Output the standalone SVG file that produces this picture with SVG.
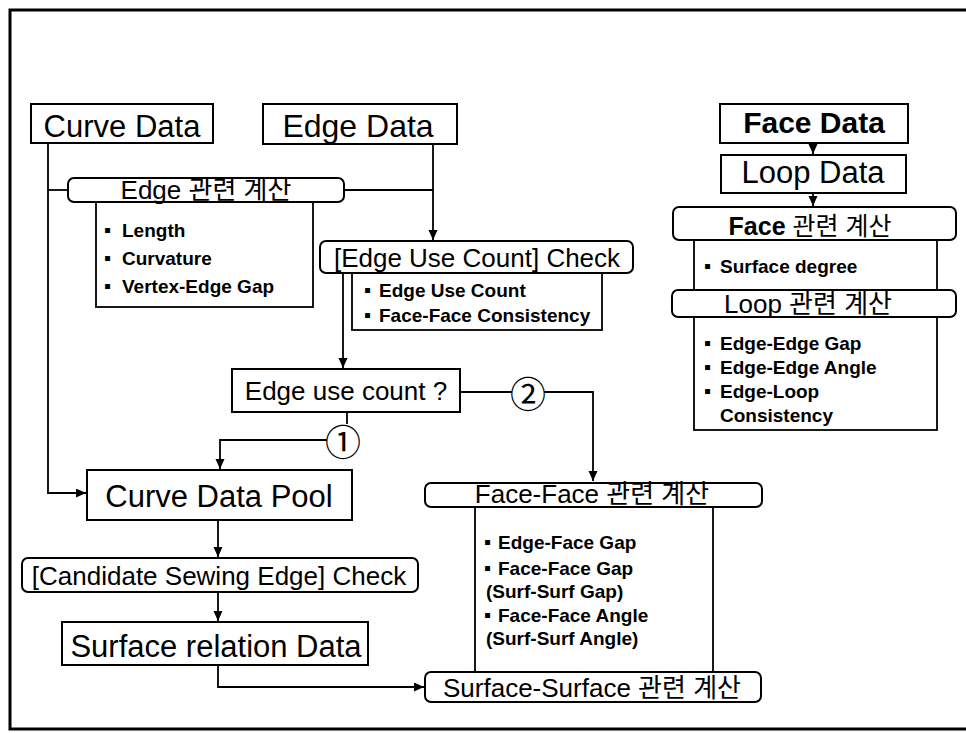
<svg xmlns="http://www.w3.org/2000/svg" width="966" height="733" viewBox="0 0 966 733">
<style>
text{font-family:"Liberation Sans","Noto Sans CJK KR",sans-serif;fill:#000}
.box{fill:#fff;stroke:#000;stroke-width:2}
.det{fill:none;stroke:#000;stroke-width:1.8}
.big{font-size:31px}
.hd{font-size:26px}
.bl{font-size:19px;font-weight:bold}
.bu{font-size:20px}
.c{text-anchor:middle}
.ln{fill:none;stroke:#000;stroke-width:1.8}
.num{font-family:"Noto Sans CJK KR",sans-serif;font-size:36px;text-anchor:middle;dominant-baseline:central}
</style>
<defs>
<marker id="ah" markerUnits="userSpaceOnUse" markerWidth="10" markerHeight="10" refX="10" refY="4.5" orient="auto">
<path d="M0,0 L10,4.5 L0,9 z" fill="#000"/>
</marker>
</defs>
<rect width="966" height="733" fill="#fff"/>
<path d="M966,10 H10 V729 H966" fill="none" stroke="#000" stroke-width="3"/>

<g id="connectors">
<path class="ln" d="M48,143 V493 H86" marker-end="url(#ah)"/>
<path class="ln" d="M48,190 H68"/>
<path class="ln" d="M344,190 H433"/>
<path class="ln" d="M433,144 V240" marker-end="url(#ah)"/>
<path class="ln" d="M343,273 V368" marker-end="url(#ah)"/>
<path class="ln" d="M347,412 V424"/>
<path class="ln" d="M327,440 H220 V469" marker-end="url(#ah)"/>
<path class="ln" d="M460,392 H512"/>
<path class="ln" d="M544,392 H593 V481" marker-end="url(#ah)"/>
<path class="ln" d="M218,520 V557" marker-end="url(#ah)"/>
<path class="ln" d="M218,592 V621" marker-end="url(#ah)"/>
<path class="ln" d="M218,665 V687 H424" marker-end="url(#ah)"/>
<path class="ln" d="M813,143 V154" marker-end="url(#ah)"/>
<path class="ln" d="M813,193 V206" marker-end="url(#ah)"/>
</g>

<g id="curve-data">
<rect class="box" x="31" y="104" width="182" height="39"/>
<text class="big c" x="122" y="137">Curve Data</text>
</g>
<g id="edge-data">
<rect class="box" x="263" y="104" width="194" height="40"/>
<text class="c" x="358" y="137" font-size="32">Edge Data</text>
</g>
<g id="edge-calc">
<rect class="det" x="96" y="202" width="217" height="105"/>
<rect class="box" x="68" y="178" width="276" height="24" rx="6"/>
<text class="hd c" x="206" y="199">Edge 관련 계산</text>
<text class="bl" y="237"><tspan class="bu" x="104">▪</tspan><tspan x="122">Length</tspan></text>
<text class="bl" y="265"><tspan class="bu" x="104">▪</tspan><tspan x="122">Curvature</tspan></text>
<text class="bl" y="293"><tspan class="bu" x="104">▪</tspan><tspan x="122">Vertex-Edge Gap</tspan></text>
</g>
<g id="euc-check">
<rect class="det" x="352" y="273" width="250" height="57"/>
<rect class="box" x="320" y="241" width="313" height="32" rx="6"/>
<text class="c" x="477" y="267" font-size="26">[Edge Use Count] Check</text>
<text class="bl" y="297"><tspan class="bu" x="364">▪</tspan><tspan x="379">Edge Use Count</tspan></text>
<text class="bl" y="322"><tspan class="bu" x="364">▪</tspan><tspan x="379">Face-Face Consistency</tspan></text>
</g>
<g id="edge-use-count">
<rect class="box" x="232" y="369" width="228" height="43"/>
<text class="c" x="346" y="400" font-size="26">Edge use count ?</text>
</g>
<g id="branch-1">
<text class="num" x="343" y="440">①</text>
</g>
<g id="branch-2">
<text class="num" x="528" y="392">②</text>
</g>
<g id="curve-data-pool">
<rect class="box" x="87" y="470" width="265" height="50"/>
<text class="c" x="219" y="507" font-size="31">Curve Data Pool</text>
</g>
<g id="candidate-check">
<rect class="box" x="22" y="558" width="396" height="34" rx="6"/>
<text class="c" x="219" y="585" font-size="26">[Candidate Sewing Edge] Check</text>
</g>
<g id="surface-relation">
<rect class="box" x="62" y="622" width="306" height="43"/>
<text class="c" x="216" y="657" font-size="31">Surface relation Data</text>
</g>
<g id="face-face-calc">
<rect class="det" x="475" y="507" width="238" height="165"/>
<rect class="box" x="425" y="483" width="337" height="24" rx="6"/>
<text class="hd c" x="592" y="503">Face-Face 관련 계산</text>
<text class="bl" y="549"><tspan class="bu" x="484">▪</tspan><tspan x="498">Edge-Face Gap</tspan></text>
<text class="bl" y="575"><tspan class="bu" x="484">▪</tspan><tspan x="498">Face-Face Gap</tspan></text>
<text class="bl" x="486" y="598">(Surf-Surf Gap)</text>
<text class="bl" y="622"><tspan class="bu" x="484">▪</tspan><tspan x="498">Face-Face Angle</tspan></text>
<text class="bl" x="486" y="645">(Surf-Surf Angle)</text>
</g>
<g id="surface-surface-calc">
<rect class="box" x="425" y="672" width="336" height="30" rx="6"/>
<text class="c" x="592" y="697" font-size="26">Surface-Surface 관련 계산</text>
</g>
<g id="face-data">
<rect class="box" x="720" y="104" width="188" height="39"/>
<text class="c" x="814" y="133" font-size="30" font-weight="bold">Face Data</text>
</g>
<g id="loop-data">
<rect class="box" x="721" y="155" width="185" height="38"/>
<text class="c" x="813" y="183" font-size="31">Loop Data</text>
</g>
<g id="face-calc">
<rect class="det" x="694" y="240" width="243" height="50"/>
<rect class="box" x="673" y="207" width="283" height="33" rx="6"/>
<text class="c" x="810" y="235" font-size="25"><tspan font-weight="bold">Face</tspan> 관련 계산</text>
<text class="bl" y="273"><tspan class="bu" x="704">▪</tspan><tspan x="720">Surface degree</tspan></text>
</g>
<g id="loop-calc">
<rect class="det" x="694" y="317" width="243" height="113"/>
<rect class="box" x="672" y="290" width="284" height="27" rx="6"/>
<text class="c" x="808" y="313" font-size="26">Loop 관련 계산</text>
<text class="bl" y="350"><tspan class="bu" x="704">▪</tspan><tspan x="720">Edge-Edge Gap</tspan></text>
<text class="bl" y="374"><tspan class="bu" x="704">▪</tspan><tspan x="720">Edge-Edge Angle</tspan></text>
<text class="bl" y="398"><tspan class="bu" x="704">▪</tspan><tspan x="720">Edge-Loop</tspan></text>
<text class="bl" x="720" y="422">Consistency</text>
</g>
</svg>
